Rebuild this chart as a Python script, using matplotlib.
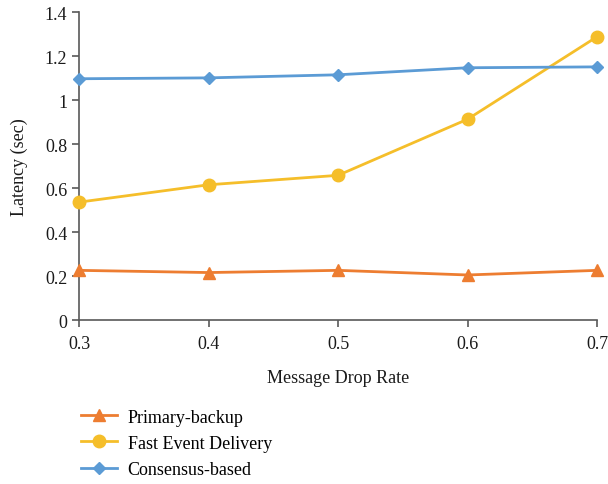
import matplotlib
matplotlib.use("Agg")
import matplotlib.pyplot as plt

drop_rate = [0.3, 0.4, 0.5, 0.6, 0.7]
primary_backup = [0.226, 0.216, 0.226, 0.205, 0.226]
fast_event = [0.536, 0.615, 0.658, 0.913, 1.288]
consensus = [1.097, 1.101, 1.115, 1.147, 1.151]

y_ticks = [0, 0.2, 0.4, 0.6, 0.8, 1.0, 1.2, 1.4]
y_tick_labels = ["0", "0.2", "0.4", "0.6", "0.8", "1", "1.2", "1.4"]
x_tick_labels = ["0.3", "0.4", "0.5", "0.6", "0.7"]

plt.rcParams["font.family"] = ["Liberation Serif", "DejaVu Serif"]

fig = plt.figure(figsize=(6.08, 4.85), dpi=100)
ax = fig.add_axes([0.130, 0.338, 0.852, 0.635])

ax.plot(drop_rate, primary_backup, color="#ED7D31", lw=2, marker="^", ms=9,
        label="Primary-backup", clip_on=False, zorder=3)
ax.plot(drop_rate, fast_event, color="#F5BE2A", lw=2, marker="o", ms=9,
        label="Fast Event Delivery", clip_on=False, zorder=3)
ax.plot(drop_rate, consensus, color="#5B9BD5", lw=2, marker="D", ms=6.5,
        label="Consensus-based", clip_on=False, zorder=3)

ax.set_xlim(0.3, 0.7)
ax.set_ylim(0, 1.4)
ax.set_xticks(drop_rate)
ax.set_xticklabels(x_tick_labels)
ax.set_yticks(y_ticks)
ax.set_yticklabels(y_tick_labels)

for side in ("top", "right"):
    ax.spines[side].set_visible(False)
for side in ("left", "bottom"):
    ax.spines[side].set_color("#595959")
    ax.spines[side].set_linewidth(1.2)
ax.tick_params(axis="both", colors="#595959", labelcolor="#1a1a1a",
               labelsize=13, length=5, width=1.2, direction="out")
ax.tick_params(axis="x", pad=6)

ax.set_xlabel("Message Drop Rate", fontsize=13, color="#1a1a1a", labelpad=12)
ax.set_ylabel("Latency (sec)", fontsize=13, color="#1a1a1a", labelpad=12)

handles, labels = ax.get_legend_handles_labels()
fig.legend(handles, labels, loc="upper left", bbox_to_anchor=(0.121, 0.17),
           frameon=False, fontsize=13, handlelength=2.0, labelspacing=0.5,
           handletextpad=0.6, borderaxespad=0)

fig.savefig("out.png", dpi=100)
